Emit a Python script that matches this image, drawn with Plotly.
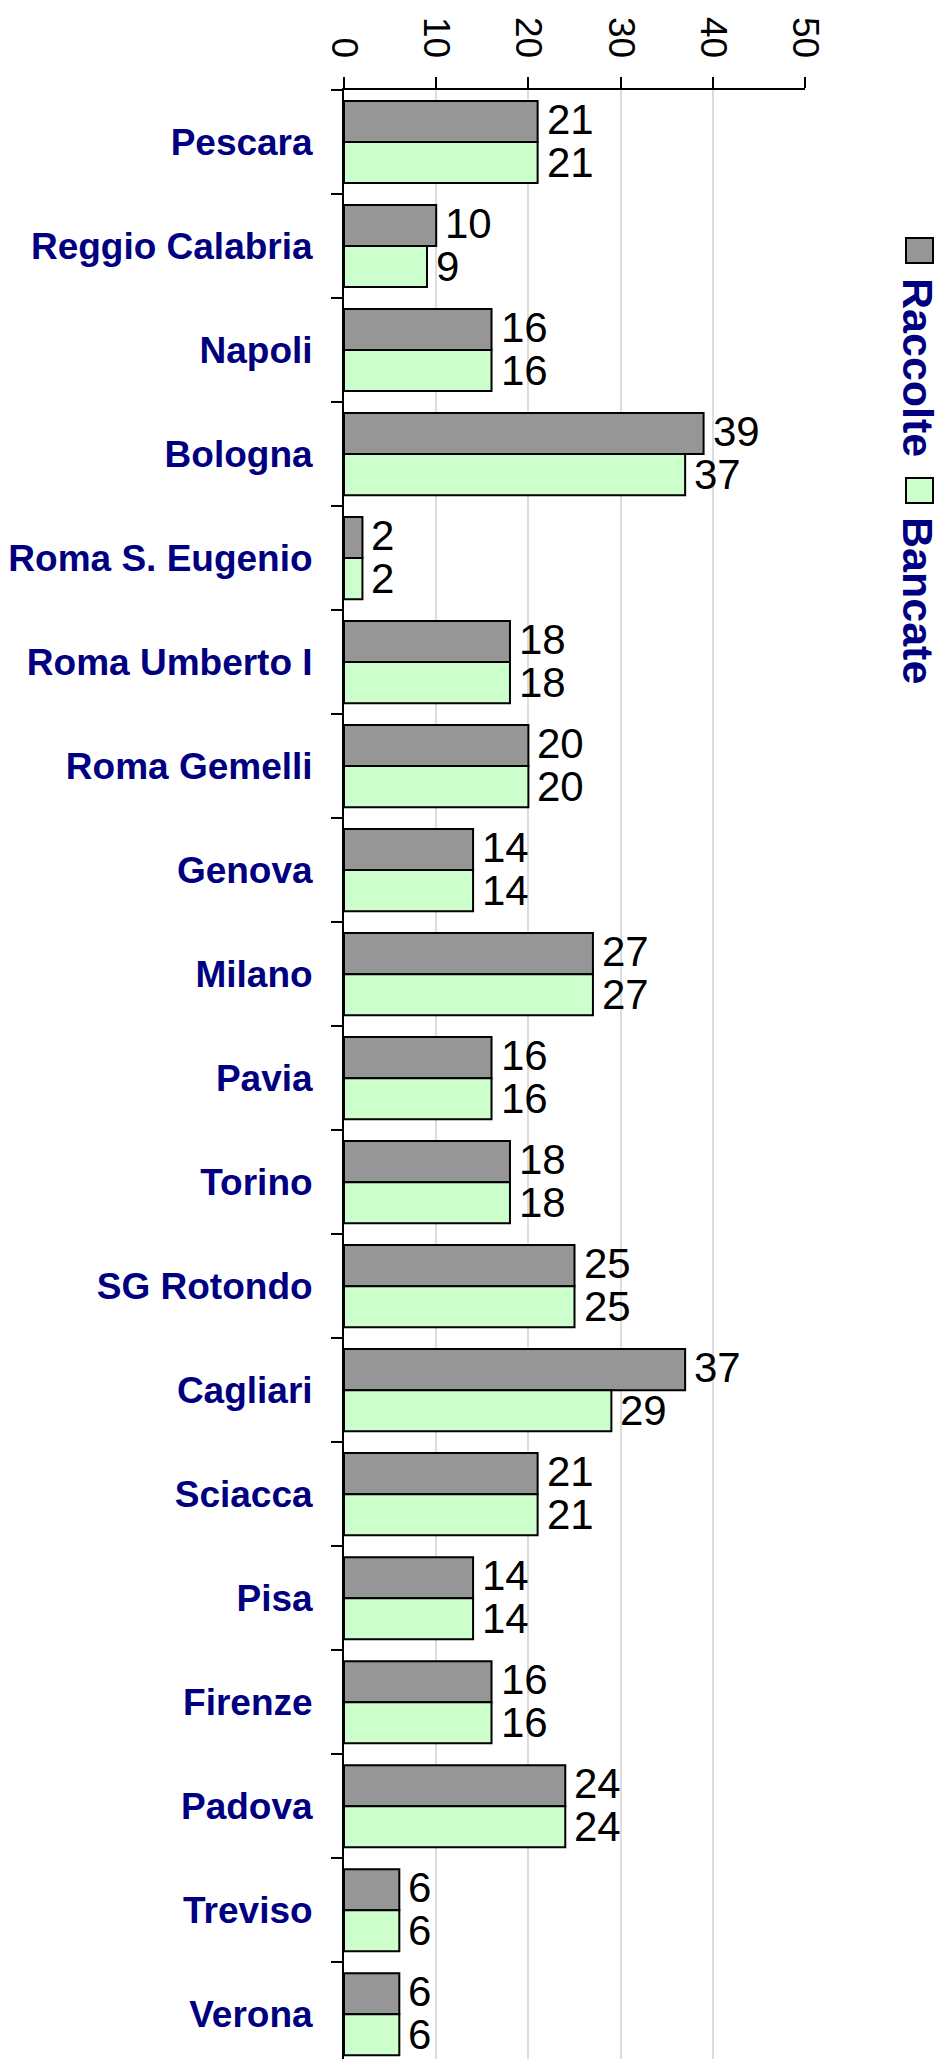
import plotly.graph_objects as go

categories = ["Pescara", "Reggio Calabria", "Napoli", "Bologna", "Roma S. Eugenio",
              "Roma Umberto I", "Roma Gemelli", "Genova", "Milano", "Pavia", "Torino",
              "SG Rotondo", "Cagliari", "Sciacca", "Pisa", "Firenze", "Padova",
              "Treviso", "Verona"]
raccolte = [21, 10, 16, 39, 2, 18, 20, 14, 27, 16, 18, 25, 37, 21, 14, 16, 24, 6, 6]
bancate = [21, 9, 16, 37, 2, 18, 20, 14, 27, 16, 18, 25, 29, 21, 14, 16, 24, 6, 6]
series_names = ["Raccolte", "Bancate"]
x_ticks = [0, 10, 20, 30, 40, 50]

W, H = 947, 2059
L, R, T, B = 344, 805, 90, 0
FONT = "Liberation Sans, Arial, sans-serif"
NAVY = "#000080"
GRAY = "#969696"
GREEN = "#CCFFCC"

fig = go.Figure()
annotations = []
series = [(series_names[0], raccolte, GRAY, 23), (series_names[1], bancate, GREEN, -20)]
for name, vals, col, yshift in series:
    fig.add_trace(go.Bar(
        y=categories, x=vals, orientation="h", name=name,
        marker=dict(color=col, line=dict(color="black", width=2)),
        showlegend=False, hoverinfo="x+y",
    ))
    for cat, v in zip(categories, vals):
        annotations.append(dict(text=str(v), x=v, y=cat, xref="x", yref="y",
                                xanchor="left", yanchor="middle", xshift=8, yshift=yshift,
                                showarrow=False, borderpad=0,
                                font=dict(family=FONT, size=42, color="black")))

def px_x(p):
    return (p - L) / (R - L)

def px_y(p):
    return (H - B - p) / (H - B - T)

shapes = []
legend_items = [(series_names[0], GRAY, 238, 263, 367), (series_names[1], GREEN, 478, 503, 600)]
for name, col, y0, y1, yc in legend_items:
    shapes.append(dict(type="rect", xref="paper", yref="paper",
                       x0=px_x(906), x1=px_x(933), y0=px_y(y1), y1=px_y(y0),
                       fillcolor=col, line=dict(color="black", width=2)))
    annotations.append(dict(text=name, xref="paper", yref="paper",
                            x=px_x(918), y=px_y(yc), xanchor="center", yanchor="middle",
                            textangle=90, showarrow=False,
                            font=dict(family=FONT, size=43, color=NAVY, weight="bold")))

fig.update_layout(
    width=W, height=H,
    margin=dict(l=L, r=W - R, t=T, b=B, pad=0, autoexpand=False),
    paper_bgcolor="white", plot_bgcolor="white",
    barmode="group", bargap=0.21, bargroupgap=0,
    shapes=shapes, annotations=annotations,
    xaxis=dict(side="top", range=[0, 50], tickvals=x_ticks, tickangle=90,
               automargin=False, ticklabelstandoff=6,
               showgrid=True, gridcolor="#dddddd", gridwidth=2,
               showline=True, linecolor="black", linewidth=2,
               ticks="outside", ticklen=11, tickwidth=2, tickcolor="black",
               tickfont=dict(family=FONT, size=37, color="black"), zeroline=False),
    yaxis=dict(categoryorder="array", categoryarray=categories, range=[18.43, -0.5],
               automargin=False,
               showline=True, linecolor="black", linewidth=2,
               ticks="outside", ticklen=11, tickwidth=2, tickcolor="black",
               tickson="boundaries", showgrid=False, ticklabelstandoff=22,
               tickfont=dict(family=FONT, size=37, color=NAVY, weight="bold")),
)

fig.write_html("out.html", config={"displayModeBar": False},
               post_script="document.body.style.margin='0px';")
